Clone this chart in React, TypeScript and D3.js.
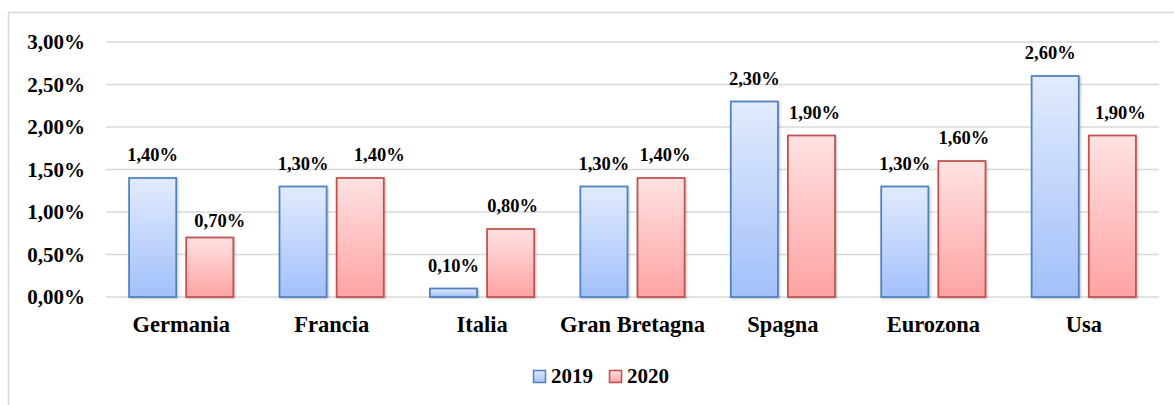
import React from "react";
import * as d3 from "d3";

const categories = ["Germania", "Francia", "Italia", "Gran Bretagna", "Spagna", "Eurozona", "Usa"];
const seriesNames = ["2019", "2020"];
const values2019 = [0.014, 0.013, 0.001, 0.013, 0.023, 0.013, 0.026];
const values2020 = [0.007, 0.014, 0.008, 0.014, 0.019, 0.016, 0.019];
const yTicks = [0, 0.005, 0.01, 0.015, 0.02, 0.025, 0.03];
// small manual nudges of data labels (as in the original chart)
const nudgeX2019 = [0, 0, 0, 0, 0, 0, -5];
const nudgeX2020 = [10, 19, 2, 4, 3, 2, 8];
const nudgeY2020 = [6, 0, 0, 0, 0, 0, 0];

const W = 1174;
const H = 405;
const FONT = '"Liberation Serif", "DejaVu Serif", "Times New Roman", Times, serif';

const fmt = (v: number) => (v * 100).toFixed(2).replace(".", ",") + "%";

const txt: React.CSSProperties = { fontFamily: FONT, fontWeight: 700 };

export default function App() {
  const x0 = d3.scaleBand<string>().domain(categories).range([106, 1159]).padding(0);
  const bw = x0.bandwidth();
  const x1 = d3
    .scaleBand<string>()
    .domain(seriesNames)
    .range([0, bw])
    .paddingInner(0.175)
    .paddingOuter(0.404);
  const y = d3.scaleLinear().domain([0, 0.03]).range([297, 42]);

  const series = [
    { name: "2019", values: values2019, grad: "gBlue", stroke: "#4F81BD", nx: nudgeX2019, ny: [0, 0, 0, 0, 0, 0, 0] },
    { name: "2020", values: values2020, grad: "gRed", stroke: "#C0504D", nx: nudgeX2020, ny: nudgeY2020 },
  ];

  return (
    <svg
      width={W}
      height={H}
      style={{ position: "absolute", left: 0, top: 0, background: "#fff", fontFamily: FONT }}
    >
      <defs>
        <linearGradient id="gBlue" x1="0" y1="0" x2="0" y2="1">
          <stop offset="0%" stopColor="#E2EBFD" />
          <stop offset="100%" stopColor="#A2C0FA" />
        </linearGradient>
        <linearGradient id="gRed" x1="0" y1="0" x2="0" y2="1">
          <stop offset="0%" stopColor="#FFE2E2" />
          <stop offset="100%" stopColor="#FFA3A3" />
        </linearGradient>
        <filter id="shadow" x="-10%" y="-10%" width="130%" height="130%">
          <feDropShadow dx="1" dy="1" stdDeviation="1" floodColor="#000" floodOpacity="0.25" />
        </filter>
      </defs>
      <rect x={0} y={0} width={W} height={H} fill="#fff" />
      {/* frame */}
      <line x1={8} y1={12.5} x2={W} y2={12.5} stroke="#D9D9D9" strokeWidth={1.5} />
      <line x1={8.5} y1={12} x2={8.5} y2={H} stroke="#D9D9D9" strokeWidth={1.5} />

      {/* grid */}
      {yTicks.map((t) => (
        <g key={t}>
          <line x1={106} x2={1159} y1={y(t)} y2={y(t)} stroke="#D9D9D9" strokeWidth={1.5} />
          <text x={85} y={y(t)} dy="0.35em" textAnchor="end" fontSize={21} style={txt} fill="#000">
            {fmt(t)}
          </text>
        </g>
      ))}

      {/* bars */}
      {categories.map((c, i) => (
        <g key={c} transform={`translate(${x0(c)},0)`}>
          {series.map((s) => {
            const v = s.values[i];
            const bx = x1(s.name) as number;
            const w = x1.bandwidth();
            return (
              <g key={s.name}>
                <rect
                  x={bx}
                  y={y(v)}
                  width={w}
                  height={y(0) - y(v)}
                  fill={`url(#${s.grad})`}
                  stroke={s.stroke}
                  strokeWidth={1.75}
                  filter="url(#shadow)"
                />
                <text
                  x={bx + w / 2 + s.nx[i]}
                  y={y(v) - 17 + s.ny[i]}
                  textAnchor="middle"
                  fontSize={18.5}
                  style={txt}
                  fill="#000"
                >
                  {fmt(v)}
                </text>
              </g>
            );
          })}
          <text x={bw / 2} y={332} textAnchor="middle" fontSize={22.5} style={txt} fill="#000">
            {c}
          </text>
        </g>
      ))}

      {/* legend */}
      <g>
        <rect x={533.5} y={370.5} width={12} height={12} fill="url(#gBlue)" stroke="#4F81BD" strokeWidth={1.5} />
        <text x={551} y={383} fontSize={21} style={txt} fill="#000">
          2019
        </text>
        <rect x={609.5} y={370.5} width={12} height={12} fill="url(#gRed)" stroke="#C0504D" strokeWidth={1.5} />
        <text x={627} y={383} fontSize={21} style={txt} fill="#000">
          2020
        </text>
      </g>
    </svg>
  );
}
